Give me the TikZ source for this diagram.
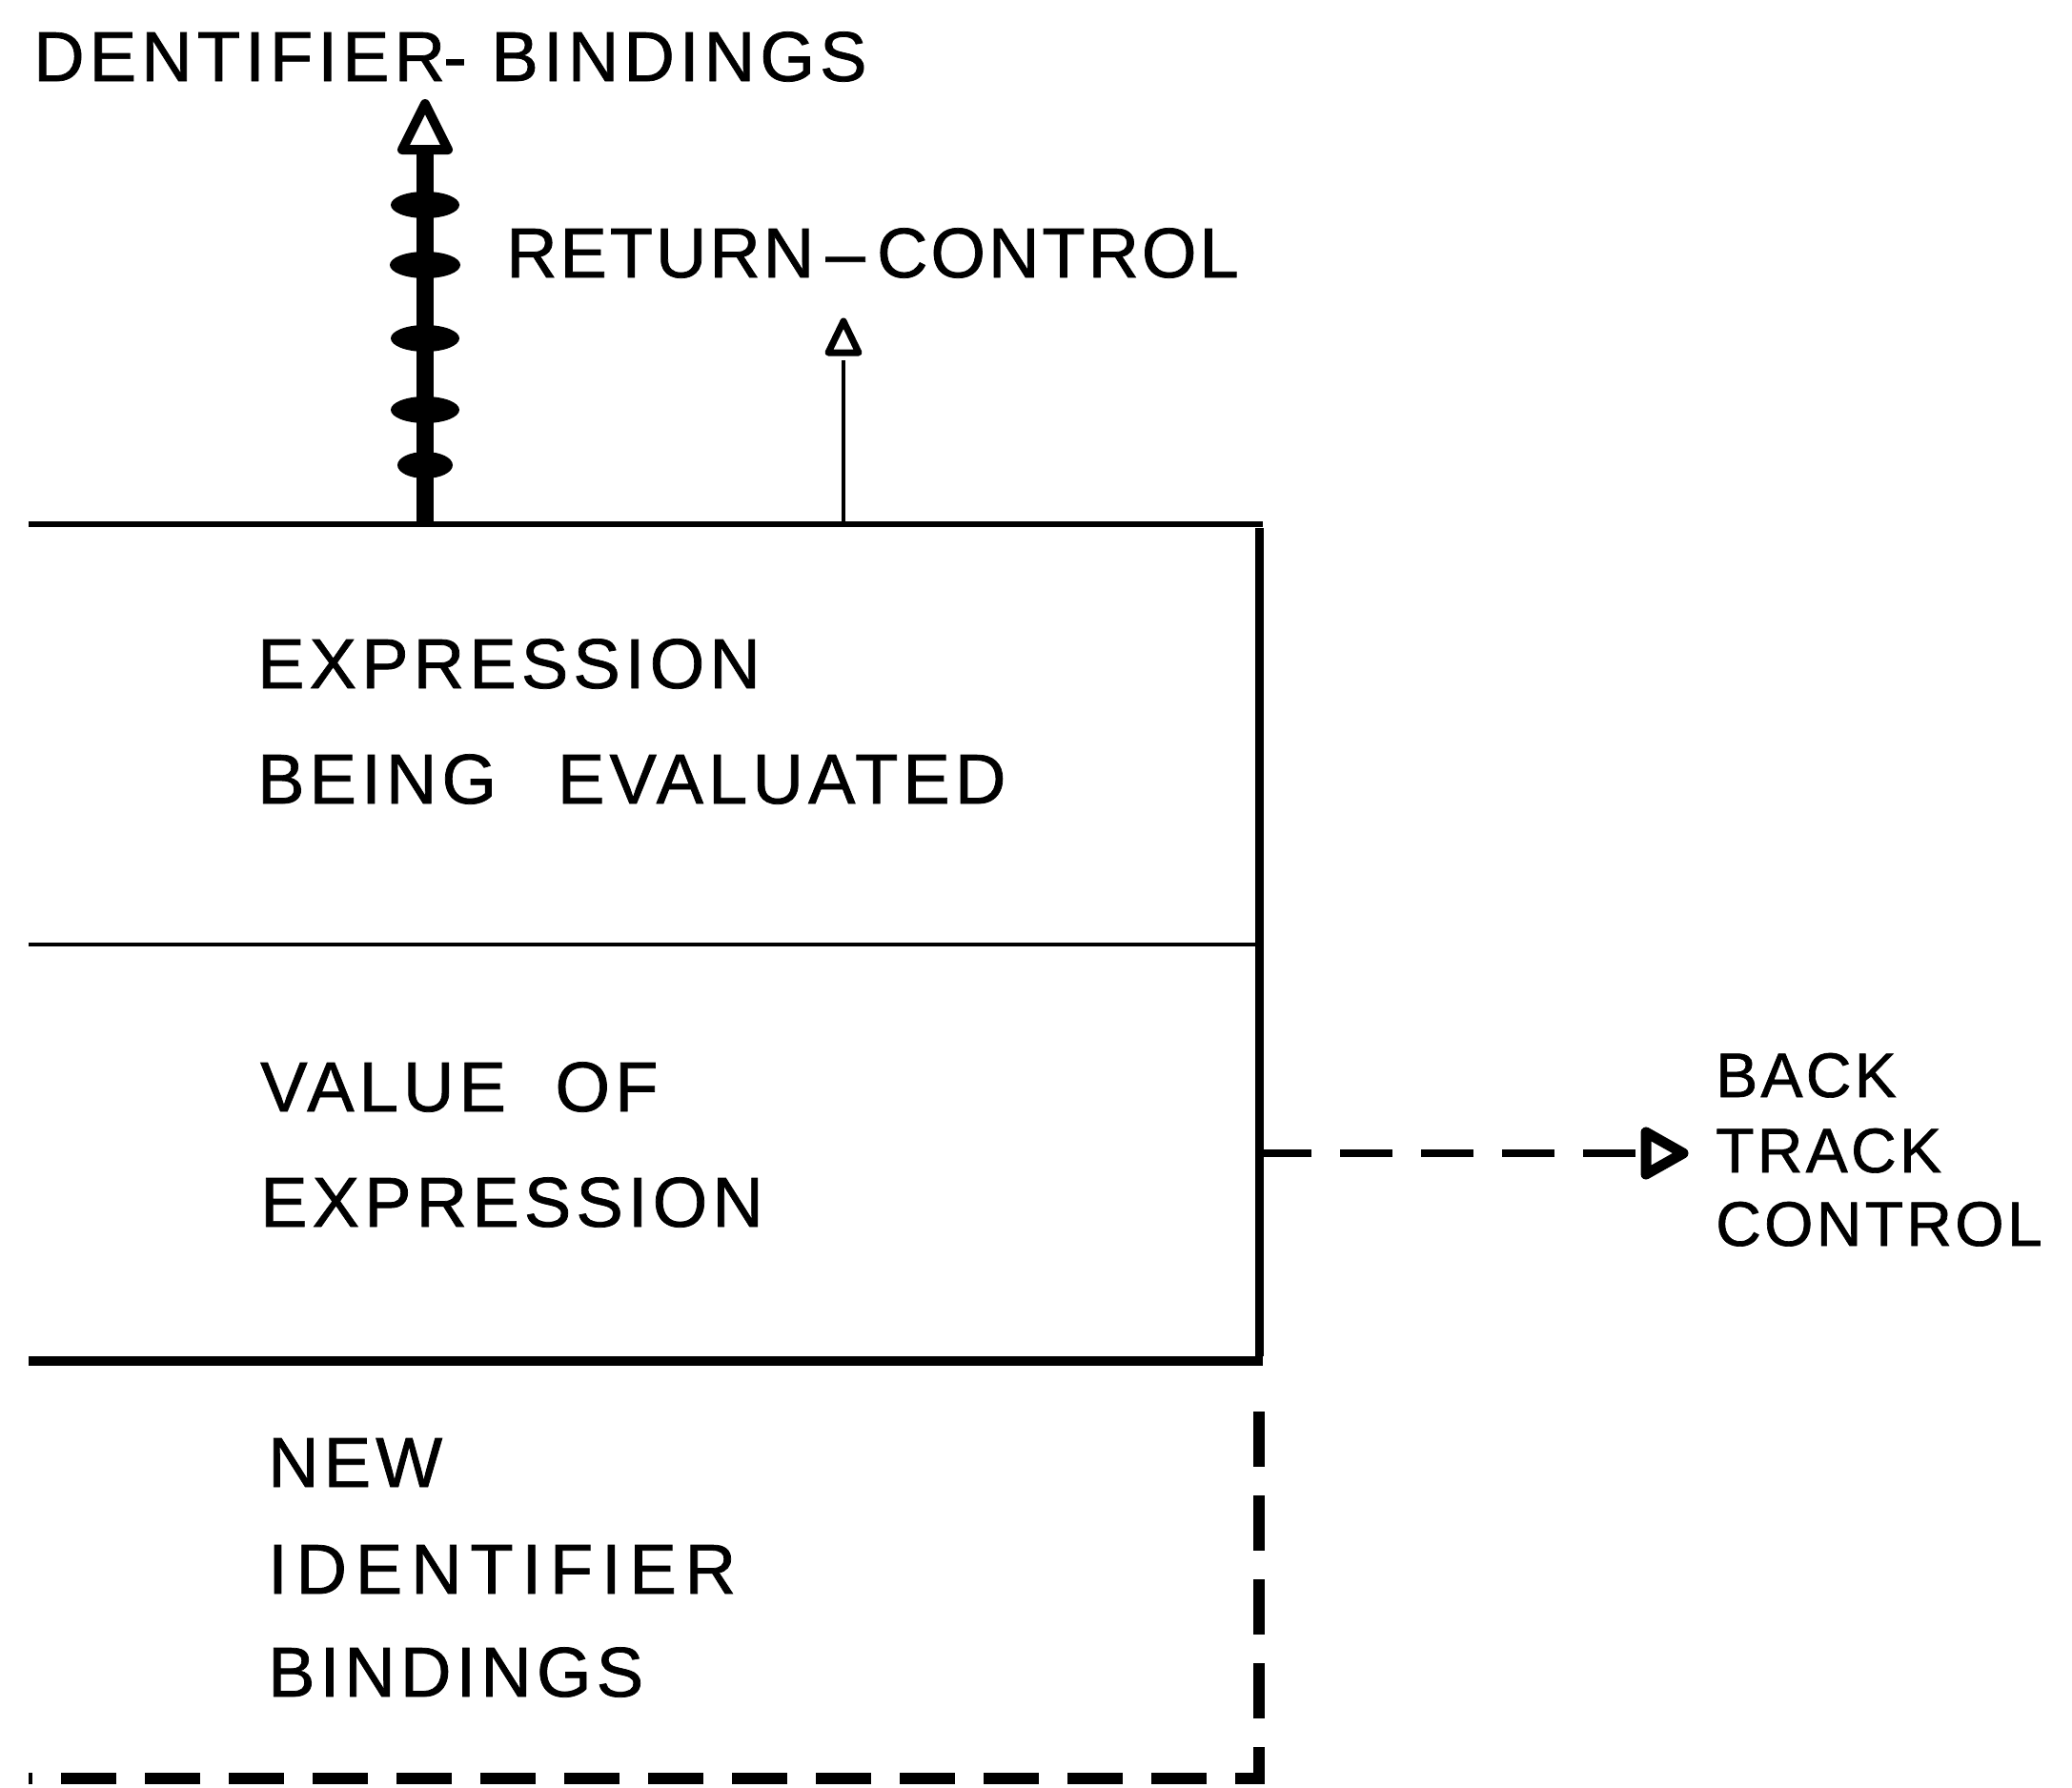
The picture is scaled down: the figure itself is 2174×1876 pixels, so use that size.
\documentclass[tikz,border=0pt]{standalone}
\usepackage{fontspec}
\setmainfont[LetterSpace=7,FakeBold=1]{Liberation Sans}
\usetikzlibrary{arrows.meta}
\begin{document}
\begin{tikzpicture}[x=1pt,y=-1pt,
  lbl/.style={anchor=base west, inner sep=0pt, font=\fontsize{74}{80}\selectfont},
  slbl/.style={anchor=base west, inner sep=0pt, font=\fontsize{66}{72}\selectfont\addfontfeature{LetterSpace=5}},
  hatchline/.style={line width=18pt},
  tickmark/.style={fill=black},
  thinline/.style={line width=4pt},
  btline/.style={line width=8pt, dash pattern=on 55pt off 30pt},
  headtri/.style={line width=#1pt, line join=round, fill=white, draw=black},
  solidedge/.style={line width=#1pt},
  dashededge/.style={line width=12pt, dash pattern=on 58pt off 30pt}
]
\useasboundingbox (0,0) rectangle (2174,1876);
\fill[white] (0,0) rectangle (2174,1876);

% labels
\node[lbl] (topl) at (35,85) {DENTIFIER\kern-2pt - BINDINGS};
\node[lbl,font=\fontsize{74}{80}\selectfont\addfontfeature{LetterSpace=4}] (retl) at (531,291) {RETURN\,–\,CONTROL};
\node[lbl] (expr1) at (270,722) {EXPRESSION};
\node[lbl] (expr2) at (270,843) {BEING\ \ \,EVALUATED};
\node[lbl] (val1) at (273,1166) {VALUE\ \ OF};
\node[lbl] (val2) at (273,1287) {EXPRESSION};
\node[slbl] (bt1) at (1800,1151) {BACK};
\node[slbl] (bt2) at (1800,1230) {TRACK};
\node[slbl] (bt3) at (1800,1307) {CONTROL};
\node[lbl] (nb1) at (281,1560) {NEW};
\node[lbl,font=\fontsize{74}{80}\selectfont\addfontfeature{LetterSpace=12}] (nb2) at (281,1672) {IDENTIFIER};
\node[lbl] (nb3) at (281,1780) {BINDINGS};

% box
\coordinate (tl) at (30,550);
\coordinate (tr) at (1321,550);
\coordinate (ml) at (30,991);
\coordinate (mr) at (1321,991);
\coordinate (bl) at (30,1428);
\coordinate (br) at (1321,1428);
\coordinate (dtop) at (1321,1481);
\coordinate (dcorner) at (1321,1866);
\coordinate (dleft) at (30,1866);
\draw[solidedge=6] (tl) -- ([xshift=4pt]tr);
\draw[solidedge=9] ([yshift=-4pt]tr) -- ([yshift=5pt]br);
\draw[solidedge=4] (ml) -- (mr);
\draw[solidedge=10] (bl) -- ([xshift=4pt]br);
\draw[dashededge] (dtop) -- (dcorner) -- (dleft);

% hatched arrow
\coordinate (hbase) at (446,550);
\coordinate (hneck) at (446,157);
\draw[hatchline] (hbase) -- (hneck);
\foreach \yy/\rr in {215/36,278/37,355/36,430/36,488/29}
  \fill[tickmark] (446,\yy) ellipse [x radius=\rr pt, y radius=14pt];
\draw[headtri=10] (446,109) -- (470,157) -- (422,157) -- cycle;

% return-control arrow
\coordinate (rbase) at (885,550);
\coordinate (rneck) at (885,378);
\draw[thinline] (rbase) -- (rneck);
\draw[headtri=7] (885,337) -- (901,370) -- (869,370) -- cycle;

% back track arrow
\coordinate (bbase) at (1321,1210);
\coordinate (bneck) at (1728,1210);
\draw[btline] (bbase) -- (bneck);
\draw[headtri=11] (1766,1210) -- (1727,1232) -- (1727,1188) -- cycle;
\end{tikzpicture}
\end{document}
